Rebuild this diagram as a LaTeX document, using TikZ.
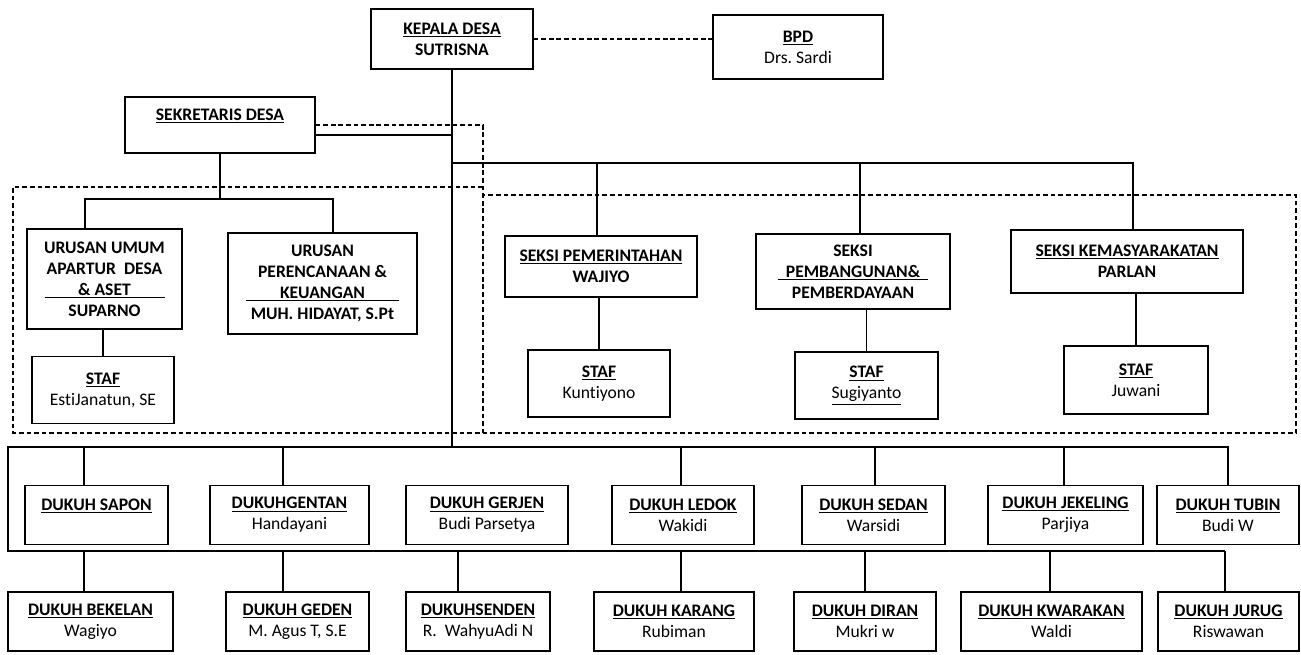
\documentclass[tikz,border=0pt]{standalone}
\usepackage{fontspec}
\setmainfont{Carlito}[Ligatures=NoCommon]
\usepackage{tikz}
\usetikzlibrary{calc}

\newcommand{\fs}{\fontsize{13.2}{15.8}\selectfont}
\newcommand{\udl}[1]{\underline{#1}}
\tikzset{wh/.style 2 args={minimum width=#1*0.75pt, minimum height=#2*0.75pt}}

\begin{document}
\begin{tikzpicture}[
  x=0.75pt, y=-0.75pt,
  font=\fs,
  line width=1.1pt,
  box/.style={draw, line width=1pt, inner sep=0pt, align=center, fill=white},
  bbox/.style={box, font=\fs\bfseries},
  dbox/.style={box, minimum height=59*0.75pt},
  dline/.style={line width=1pt, dash pattern=on 3.5pt off 2.2pt}]
\useasboundingbox (0,0) rectangle (1301,654);
% ---- kepala desa, bpd, sekretaris ----
\node[bbox, wh={162}{60}] (kades) at (452,39) {\udl{KEPALA DESA}\\SUTRISNA};
\node[box, wh={170}{64}] (bpd) at (798,47) {\textbf{\udl{BPD}}\\Drs.\ Sardi};
\node[bbox, wh={190}{56}] (sekdes) at (220,125) {\udl{SEKRETARIS DESA}\\\mbox{}};
\draw[dline] (kades.east) -- (kades.east -| bpd.west);
% ---- frames ----
\coordinate (frm) at (483,433);
\draw[dline] (483,187) -- (13,187) -- (13,433) -- (1296,433) -- (1296,195) -- (483,195);
\draw[dline] (sekdes.east) -| (frm);
% ---- urusan ----
\node[bbox, wh={155}{100}] (umum) at (104.5,279)
  {URUSAN UMUM\\APARTUR\ \ DESA\\\udl{\makebox[90pt]{\& ASET}}\\SUPARNO};
\node[bbox, wh={189}{101}] (pereng) at (322.5,283.5)
  {URUSAN\\PERENCANAAN \&\\\udl{\makebox[115pt]{KEUANGAN}}\\MUH. HIDAYAT, S.Pt};
\node[box, wh={142}{67}] (staf1) at (103,390) {\textbf{\udl{STAF}}\\EstiJanatun, SE};
\coordinate (ub1) at (85,199);
\coordinate (ub2) at (333,199);
\draw (sekdes.south) -- (sekdes.south |- ub1);
\draw (ub1 |- umum.north) -- (ub1) -- (ub2) -- (ub2 |- pereng.north);
\draw (staf1.north) -- (staf1.north |- umum.south);
% ---- seksi ----
\node[bbox, wh={192}{61}] (pem) at (601,266.5) {\udl{SEKSI PEMERINTAHAN}\\WAJIYO};
\node[bbox, wh={194}{75}] (pbg) at (853,271.5)
  {SEKSI\\\udl{\makebox[113pt]{PEMBANGUNAN\&}}\\PEMBERDAYAAN};
\node[bbox, wh={232}{63}] (kms) at (1127,261.5) {\udl{SEKSI KEMASYARAKATAN}\\PARLAN};
\node[box, wh={142}{67}] (staf2) at (599,383.5) {\textbf{\udl{STAF}}\\Kuntiyono};
\node[box, wh={143}{67}] (staf3) at (866.5,385.5) {\textbf{\udl{STAF}}\\\udl{Sugiyanto}};
\node[box, wh={144}{68}] (staf4) at (1136,380) {\textbf{\udl{STAF}}\\Juwani};
\coordinate (sb1) at (597,163);
\coordinate (sb2) at (860,163);
\coordinate (sb3) at (1133,163);
\draw (kades.south |- sb1) -- (sb3) -- (sb3 |- kms.north);
\draw (sb1) -- (sb1 |- pem.north);
\draw (sb2) -- (sb2 |- pbg.north);
\draw (staf2.north) -- (staf2.north |- pem.south);
\draw (staf3.north) -- (staf3.north |- pbg.south);
\draw (staf4.north) -- (staf4.north |- kms.south);
% ---- sekretaris to spine, spine ----
\draw (sekdes.east) ++(0,10) coordinate (sj) -- (sj -| kades.south);
\coordinate (b1L) at (8,447);
\coordinate (b1R) at (1229,447);
\coordinate (b2L) at (8,551);
\coordinate (b2R) at (1225,551);
\draw (kades.south) -- (kades.south |- b1L);
\draw (b1R) -- (b1L) -- (b2L) -- (b2R);
% ---- dukuh, first row ----
\foreach \n/\cx/\w/\dx/\ti/\pe in {
  sapon/96.5/143/84/{DUKUH SAPON}/{},
  gentan/289.5/159/283/{DUKUHGENTAN}/{Handayani},
  ledok/683/142/681/{DUKUH LEDOK}/{Wakidi},
  sedan/873.5/143/875/{DUKUH SEDAN}/{Warsidi},
  jekeling/1065.5/155/1064/{DUKUH JEKELING}/{Parjiya},
  tubin/1228/142/1228/{DUKUH TUBIN}/{Budi W}}
{
  \node[dbox, minimum width=\w*0.75pt] (\n) at (\cx,515) {\textbf{\udl{\ti}}\\\mbox{\pe}};
  \coordinate (d\n) at (\dx,447);
  \draw (d\n) -- (d\n |- \n.north);
}
\node[dbox, minimum width=162*0.75pt] (gerjen) at (487,515)
  {\textbf{\udl{DUKUH GERJEN}}\\Budi Parsetya};
% ---- dukuh, second row ----
\foreach \n/\cx/\w/\dx/\ti/\pe in {
  bekelan/90.5/165/84/{DUKUH BEKELAN}/{Wagiyo},
  geden/297.5/143/283/{DUKUH GEDEN}/{M. Agus T, S.E},
  senden/478/144/458/{DUKUHSENDEN}/{R.\ \ WahyuAdi N},
  karang/674/160/681/{DUKUH KARANG}/{Rubiman},
  diran/865/142/865/{DUKUH DIRAN}/{Mukri w},
  kwarakan/1051.5/181/1050/{DUKUH KWARAKAN}/{Waldi},
  jurug/1228.5/141/1225/{DUKUH JURUG}/{Riswawan}}
{
  \node[dbox, minimum width=\w*0.75pt] (\n) at (\cx,621.5) {\textbf{\udl{\ti}}\\\mbox{\pe}};
  \coordinate (e\n) at (\dx,551);
  \draw (e\n) -- (e\n |- \n.north);
}
\end{tikzpicture}
\end{document}
